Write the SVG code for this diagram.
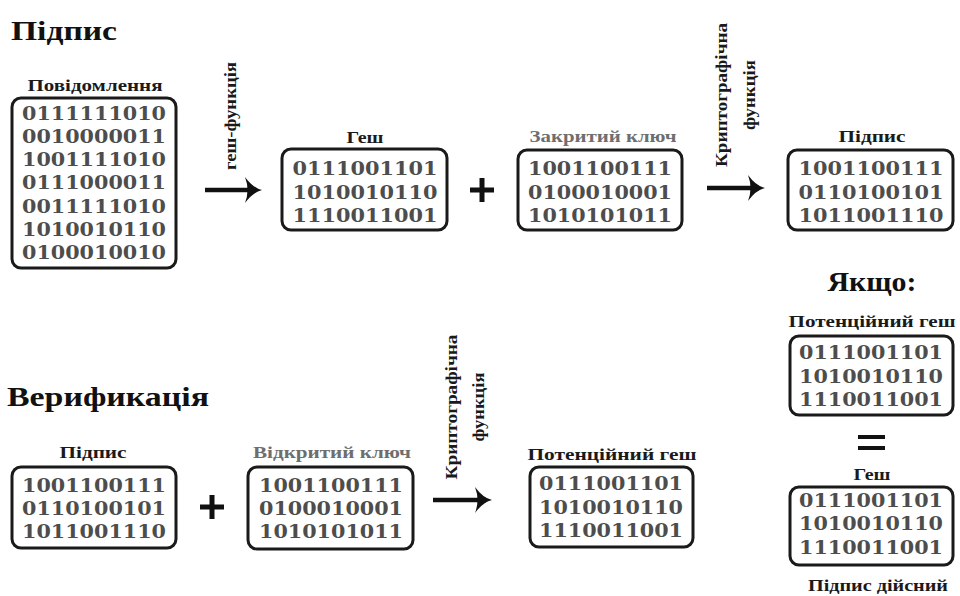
<svg xmlns="http://www.w3.org/2000/svg" width="960" height="596" viewBox="0 0 960 596">
<defs>
<style>
.box{fill:#fff;stroke:#1a1a1a;stroke-width:3}
.bits{font-family:"DejaVu Serif",serif;font-weight:bold;font-size:19px;fill:#4d4d4d;text-anchor:middle}
.lbl{font-family:"Liberation Serif","Times New Roman",serif;font-weight:bold;font-size:16px;fill:#1a1a1a;text-anchor:middle}
.key{fill:#6e6e6e}
.title{font-family:"Liberation Serif","Times New Roman",serif;font-weight:bold;font-size:27px;fill:#111}
.rot{font-family:"Liberation Serif","Times New Roman",serif;font-weight:bold;font-size:17px;fill:#1a1a1a;text-anchor:middle}
.shaft{stroke:#111;stroke-width:4.5;fill:none}
.head{fill:#111}
.op{stroke:#111;stroke-width:5;fill:none}
</style>
<path id="ah" d="M-17,-13 Q-9,-2 0,0 Q-9,2 -17,13 Q-12,0 -17,-13 Z"/>
</defs>

<text class="title" x="11" y="40" textLength="106" lengthAdjust="spacingAndGlyphs">Підпис</text>
<text class="title" x="7" y="406" textLength="202" lengthAdjust="spacingAndGlyphs">Верификація</text>

<g id="message">
<text class="lbl" x="95" y="91" textLength="135" lengthAdjust="spacingAndGlyphs">Повідомлення</text>
<rect class="box" x="12" y="98" width="164" height="170" rx="9"/>
<text class="bits" x="94" y="120" textLength="144" lengthAdjust="spacingAndGlyphs">0111111010</text>
<text class="bits" x="94" y="143" textLength="144" lengthAdjust="spacingAndGlyphs">0010000011</text>
<text class="bits" x="94" y="166" textLength="144" lengthAdjust="spacingAndGlyphs">1001111010</text>
<text class="bits" x="94" y="189" textLength="144" lengthAdjust="spacingAndGlyphs">0111000011</text>
<text class="bits" x="94" y="213" textLength="144" lengthAdjust="spacingAndGlyphs">0011111010</text>
<text class="bits" x="94" y="236" textLength="144" lengthAdjust="spacingAndGlyphs">1010010110</text>
<text class="bits" x="94" y="259" textLength="144" lengthAdjust="spacingAndGlyphs">0100010010</text>
</g>

<g id="hash">
<text class="lbl" x="365" y="143" textLength="37" lengthAdjust="spacingAndGlyphs">Геш</text>
<rect class="box" x="282" y="149" width="165" height="81" rx="9"/>
<text class="bits" x="365" y="175" textLength="145" lengthAdjust="spacingAndGlyphs">0111001101</text>
<text class="bits" x="365" y="199" textLength="145" lengthAdjust="spacingAndGlyphs">1010010110</text>
<text class="bits" x="365" y="222" textLength="145" lengthAdjust="spacingAndGlyphs">1110011001</text>
</g>

<g id="private-key">
<text class="lbl key" x="603" y="142" textLength="147" lengthAdjust="spacingAndGlyphs">Закритий ключ</text>
<rect class="box" x="518" y="150" width="164" height="80" rx="9"/>
<text class="bits" x="600" y="175" textLength="144" lengthAdjust="spacingAndGlyphs">1001100111</text>
<text class="bits" x="600" y="199" textLength="144" lengthAdjust="spacingAndGlyphs">0100010001</text>
<text class="bits" x="600" y="222" textLength="144" lengthAdjust="spacingAndGlyphs">1010101011</text>
</g>

<g id="signature">
<text class="lbl" x="872" y="142" textLength="67" lengthAdjust="spacingAndGlyphs">Підпис</text>
<rect class="box" x="788" y="150" width="165" height="80" rx="9"/>
<text class="bits" x="871" y="175" textLength="145" lengthAdjust="spacingAndGlyphs">1001100111</text>
<text class="bits" x="871" y="199" textLength="145" lengthAdjust="spacingAndGlyphs">0110100101</text>
<text class="bits" x="871" y="222" textLength="145" lengthAdjust="spacingAndGlyphs">1011001110</text>
</g>

<g id="condition">
<text class="title" x="872" y="291" text-anchor="middle" font-size="23" textLength="89" lengthAdjust="spacingAndGlyphs">Якщо:</text>
</g>

<g id="potential-hash-check">
<text class="lbl" x="872" y="327" textLength="167" lengthAdjust="spacingAndGlyphs">Потенційний геш</text>
<rect class="box" x="790" y="336" width="163" height="79" rx="9"/>
<text class="bits" x="871" y="359" textLength="144" lengthAdjust="spacingAndGlyphs">0111001101</text>
<text class="bits" x="871" y="383" textLength="144" lengthAdjust="spacingAndGlyphs">1010010110</text>
<text class="bits" x="871" y="406" textLength="144" lengthAdjust="spacingAndGlyphs">1110011001</text>
</g>

<g id="hash-check">
<text class="lbl" x="872" y="480" textLength="37" lengthAdjust="spacingAndGlyphs">Геш</text>
<rect class="box" x="790" y="487" width="163" height="78" rx="9"/>
<text class="bits" x="871" y="507" textLength="144" lengthAdjust="spacingAndGlyphs">0111001101</text>
<text class="bits" x="871" y="530" textLength="144" lengthAdjust="spacingAndGlyphs">1010010110</text>
<text class="bits" x="871" y="554" textLength="144" lengthAdjust="spacingAndGlyphs">1110011001</text>
</g>

<g id="valid">
<text class="lbl" x="878" y="591" textLength="140" lengthAdjust="spacingAndGlyphs">Підпис дійсний</text>
</g>

<g id="signature-verify">
<text class="lbl" x="93" y="458" textLength="67" lengthAdjust="spacingAndGlyphs">Підпис</text>
<rect class="box" x="12" y="467" width="164" height="81" rx="9"/>
<text class="bits" x="94" y="492" textLength="144" lengthAdjust="spacingAndGlyphs">1001100111</text>
<text class="bits" x="94" y="515" textLength="144" lengthAdjust="spacingAndGlyphs">0110100101</text>
<text class="bits" x="94" y="538" textLength="144" lengthAdjust="spacingAndGlyphs">1011001110</text>
</g>

<g id="public-key">
<text class="lbl key" x="332" y="458" textLength="158" lengthAdjust="spacingAndGlyphs">Відкритий ключ</text>
<rect class="box" x="248" y="467" width="165" height="82" rx="9"/>
<text class="bits" x="331" y="492" textLength="144" lengthAdjust="spacingAndGlyphs">1001100111</text>
<text class="bits" x="331" y="515" textLength="144" lengthAdjust="spacingAndGlyphs">0100010001</text>
<text class="bits" x="331" y="538" textLength="144" lengthAdjust="spacingAndGlyphs">1010101011</text>
</g>

<g id="potential-hash">
<text class="lbl" x="612" y="460" textLength="169" lengthAdjust="spacingAndGlyphs">Потенційний геш</text>
<rect class="box" x="530" y="467" width="163" height="80" rx="9"/>
<text class="bits" x="611" y="490" textLength="144" lengthAdjust="spacingAndGlyphs">0111001101</text>
<text class="bits" x="611" y="514" textLength="144" lengthAdjust="spacingAndGlyphs">1010010110</text>
<text class="bits" x="611" y="537" textLength="144" lengthAdjust="spacingAndGlyphs">1110011001</text>
</g>

<g id="connectors">
<line class="shaft" x1="205" y1="190" x2="256" y2="190"/>
<use href="#ah" class="head" x="262" y="190"/>
<text class="rot" transform="translate(236,116) rotate(-90)" textLength="108" lengthAdjust="spacingAndGlyphs">геш-функція</text>

<path class="op" d="M470,190 H494 M482,178 V202"/>

<line class="shaft" x1="707" y1="188" x2="759" y2="188"/>
<use href="#ah" class="head" x="765" y="188"/>
<text class="rot" transform="translate(727,95) rotate(-90)" textLength="144" lengthAdjust="spacingAndGlyphs">Криптографічна</text>
<text class="rot" transform="translate(755,95) rotate(-90)" textLength="70" lengthAdjust="spacingAndGlyphs">функція</text>

<path class="op" d="M200,507 H224 M212,495 V519"/>

<line class="shaft" x1="433" y1="500" x2="486" y2="500"/>
<use href="#ah" class="head" x="492" y="500"/>
<text class="rot" transform="translate(457,407) rotate(-90)" textLength="145" lengthAdjust="spacingAndGlyphs">Криптографічна</text>
<text class="rot" transform="translate(484,407) rotate(-90)" textLength="69" lengthAdjust="spacingAndGlyphs">функція</text>

<path d="M858,437 H885 M858,448 H885" stroke="#111" stroke-width="4" fill="none"/>
</g>
</svg>
